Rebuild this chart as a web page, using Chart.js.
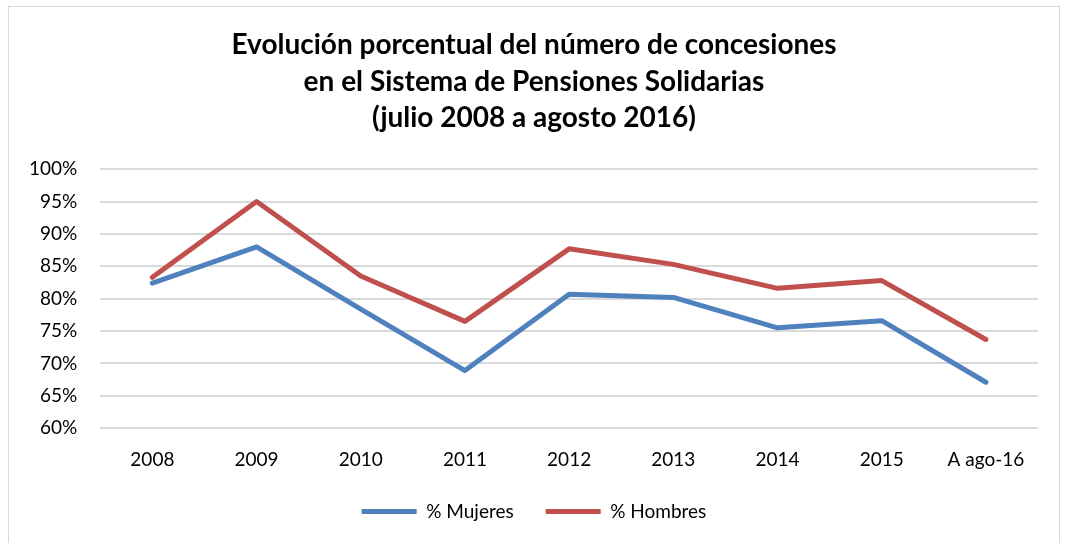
<!DOCTYPE html>
<html>
<head>
<meta charset="utf-8">
<script src="https://cdn.jsdelivr.net/npm/chart.js@4.4.0/dist/chart.umd.min.js"></script>
<style>
    body { margin: 0; background: #ffffff; }
    #frame {
        position: absolute;
        left: 8px;
        top: 6px;
        width: 1052px;
        height: 565px;
        border: 1px solid #d9d9d9;
        box-sizing: border-box;
    }
</style>
</head>
<body>
<div id="frame"><canvas id="pensionChart"></canvas></div>
<script>
// Data
const categories = ['2008', '2009', '2010', '2011', '2012', '2013', '2014', '2015', 'A ago-16'];
const mujeres = [82.4, 88.0, 78.4, 68.9, 80.7, 80.2, 75.5, 76.6, 67.1];
const hombres = [83.3, 95.0, 83.5, 76.5, 87.7, 85.3, 81.6, 82.8, 73.7];
const yTicks = [60, 65, 70, 75, 80, 85, 90, 95, 100];

const fontFamily = 'Lato, "Open Sans", sans-serif';

document.addEventListener('DOMContentLoaded', () => {
    const frame = document.getElementById('frame');
    const canvas = document.getElementById('pensionChart');
    canvas.width = frame.clientWidth;
    canvas.height = frame.clientHeight;
    const ctx = canvas.getContext('2d');

    new Chart(ctx, {
        type: 'line',
        data: {
            labels: categories,
            datasets: [
                {
                    label: '% Mujeres',
                    data: mujeres,
                    borderColor: '#4f81bd',
                    backgroundColor: '#4f81bd',
                    borderWidth: 5,
                    borderCapStyle: 'round',
                    borderJoinStyle: 'round',
                    pointRadius: 0,
                    tension: 0
                },
                {
                    label: '% Hombres',
                    data: hombres,
                    borderColor: '#c0504d',
                    backgroundColor: '#c0504d',
                    borderWidth: 5,
                    borderCapStyle: 'round',
                    borderJoinStyle: 'round',
                    pointRadius: 0,
                    tension: 0
                }
            ]
        },
        options: {
            responsive: false,
            animation: false,
            layout: {
                padding: { top: 14, right: 21, bottom: 39, left: 21 }
            },
            scales: {
                x: {
                    offset: true,
                    grid: { display: false, drawTicks: false },
                    border: { display: false },
                    ticks: {
                        color: '#000000',
                        padding: 20,
                        font: { family: fontFamily, size: 19 },
                        maxRotation: 0
                    },
                    // pull the legend closer to the axis labels
                    afterFit: scale => { scale.height -= 21; }
                },
                y: {
                    min: 60,
                    max: 100,
                    afterBuildTicks: axis => {
                        axis.ticks = yTicks.map(v => ({ value: v }));
                    },
                    grid: { color: '#d9d9d9', lineWidth: 2, drawTicks: false },
                    border: { display: false },
                    ticks: {
                        color: '#000000',
                        padding: 23,
                        font: { family: fontFamily, size: 19 },
                        callback: value => value + '%'
                    },
                    // padding is counted on both sides; drop the outer part
                    afterFit: scale => { scale.width -= 24; }
                }
            },
            plugins: {
                title: {
                    display: true,
                    text: [
                        'Evolución porcentual del número de concesiones',
                        'en el Sistema de Pensiones Solidarias',
                        '(julio 2008 a agosto 2016)'
                    ],
                    color: '#000000',
                    font: { family: fontFamily, size: 28, weight: 'bold', lineHeight: 1.3 },
                    padding: { top: 6, bottom: 33 }
                },
                legend: {
                    position: 'bottom',
                    labels: {
                        color: '#000000',
                        font: { family: fontFamily, size: 19 },
                        usePointStyle: true,
                        pointStyle: 'line',
                        pointStyleWidth: 55,
                        boxWidth: 33,
                        padding: 32
                    }
                },
                tooltip: { enabled: false }
            }
        }
    });
});
</script>
</body>
</html>
